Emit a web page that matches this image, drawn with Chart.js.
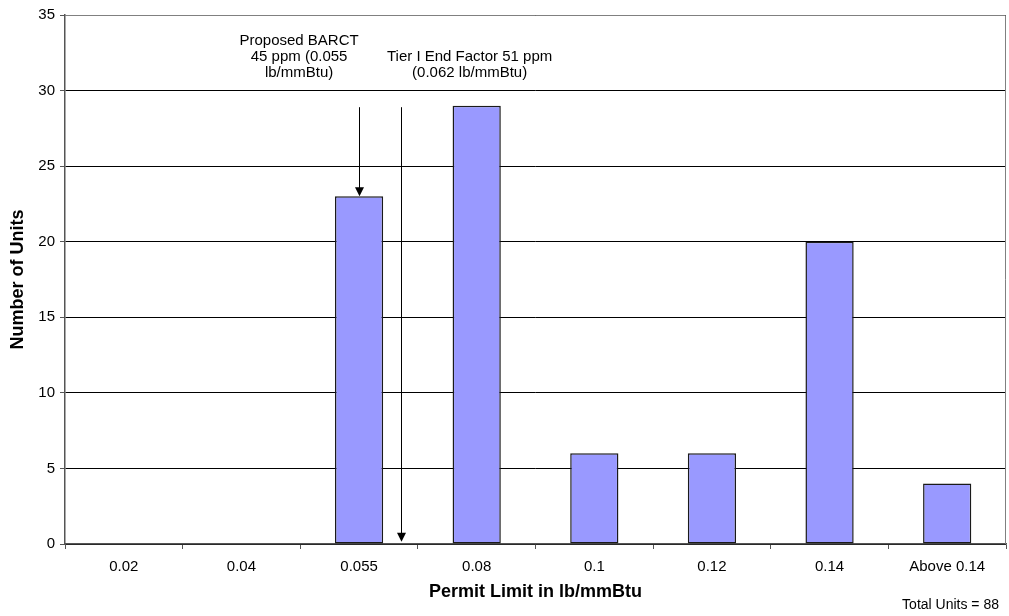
<!DOCTYPE html>
<html>
<head>
<meta charset="utf-8">
<script src="https://cdn.jsdelivr.net/npm/chart.js@4"></script>
<style>
  html, body { margin: 0; padding: 0; background: #fff; }
  #wrap { width: 1009px; height: 616px; position: relative; }
</style>
</head>
<body>
<div id="wrap"><canvas id="permitChart"></canvas></div>
<script>
// 数据
const categories = ['0.02', '0.04', '0.055', '0.08', '0.1', '0.12', '0.14', 'Above 0.14'];
const unitCounts = [0, 0, 23, 29, 6, 6, 20, 4];
const yTicks = [0, 5, 10, 15, 20, 25, 30, 35];

// 注释箭头 (类别索引 + 数值)
const arrowNotes = [
  { at: 2, from: 28.9, to: 23 },
  { at: 2.36, from: 28.9, to: 0.15 }
];
const textNotes = [
  { at: 1.49, lines: ['Proposed BARCT', '45 ppm (0.055', 'lb/mmBtu)'], top: 33.3 },
  { at: 2.94, lines: ['Tier I End Factor 51 ppm', '(0.062 lb/mmBtu)'], top: 32.25 }
];

const FONT = 'Liberation Sans, Arial, sans-serif';

const notesPlugin = {
  id: 'notes',
  afterDraw(chart) {
    const { ctx, scales: { x, y }, chartArea } = chart;
    const step = x.getPixelForValue(1) - x.getPixelForValue(0);
    const px = v => x.getPixelForValue(0) + v * step;

    ctx.save();
    // 外框
    ctx.strokeStyle = '#808080';
    ctx.lineWidth = 1;
    ctx.beginPath();
    ctx.moveTo(chartArea.left, Math.round(chartArea.top) + 0.5);
    ctx.lineTo(Math.round(chartArea.right) - 0.5, Math.round(chartArea.top) + 0.5);
    ctx.lineTo(Math.round(chartArea.right) - 0.5, chartArea.bottom);
    ctx.stroke();

    // 箭头
    ctx.strokeStyle = '#000';
    ctx.fillStyle = '#000';
    arrowNotes.forEach(a => {
      const ax = Math.round(px(a.at)) + 0.5;
      const y1 = y.getPixelForValue(a.from);
      const y2 = y.getPixelForValue(a.to);
      ctx.beginPath();
      ctx.moveTo(ax, y1);
      ctx.lineTo(ax, y2 - 8);
      ctx.stroke();
      ctx.beginPath();
      ctx.moveTo(ax - 4.5, y2 - 9);
      ctx.lineTo(ax + 4.5, y2 - 9);
      ctx.lineTo(ax, y2);
      ctx.closePath();
      ctx.fill();
    });

    // 文字
    ctx.font = '15px ' + FONT;
    ctx.textAlign = 'center';
    ctx.textBaseline = 'middle';
    textNotes.forEach(t => {
      const tx = px(t.at);
      const ty = y.getPixelForValue(t.top);
      t.lines.forEach((line, i) => ctx.fillText(line, tx, ty + i * 16));
    });

    // 总数
    ctx.textAlign = 'right';
    ctx.font = '14px ' + FONT;
    ctx.fillText('Total Units = 88', 999, 605);
    ctx.restore();
  }
};

new Chart(document.getElementById('permitChart'), {
  type: 'bar',
  data: {
    labels: categories,
    datasets: [{
      data: unitCounts,
      backgroundColor: '#9999ff',
      borderColor: '#1a1a1a',
      borderWidth: 1.5,
      borderSkipped: false,
      categoryPercentage: 1,
      barPercentage: 0.41
    }]
  },
  options: {
    responsive: true,
    maintainAspectRatio: false,
    animation: false,
    layout: { padding: { top: 15, right: 3, left: 0, bottom: 0 } },
    plugins: {
      legend: { display: false },
      tooltip: { enabled: false }
    },
    scales: {
      x: {
        afterFit: s => { s.height = 72; },
        grid: {
          offset: true,
          drawOnChartArea: false,
          drawTicks: true,
          tickLength: 5,
          tickColor: '#555'
        },
        border: { color: '#555', width: 1.5 },
        ticks: {
          color: '#000',
          font: { family: FONT, size: 15 },
          padding: 9,
          maxRotation: 0
        },
        title: {
          display: true,
          text: 'Permit Limit in lb/mmBtu',
          color: '#000',
          font: { family: FONT, size: 18, weight: 'bold' },
          padding: { top: 0, bottom: 13 }
        }
      },
      y: {
        min: 0,
        max: 35,
        afterFit: s => { s.width = 65; },
        afterBuildTicks: s => { s.ticks = yTicks.map(v => ({ value: v })); },
        grid: {
          color: '#000',
          drawTicks: true,
          tickLength: 5,
          tickColor: '#555'
        },
        border: { color: '#555', width: 1.5 },
        ticks: {
          color: '#000',
          font: { family: FONT, size: 15 },
          padding: 5
        },
        title: {
          display: true,
          text: 'Number of Units',
          color: '#000',
          font: { family: FONT, size: 18, weight: 'bold' },
          padding: { top: 7, bottom: 0 }
        }
      }
    }
  },
  plugins: [notesPlugin]
});
</script>
</body>
</html>
